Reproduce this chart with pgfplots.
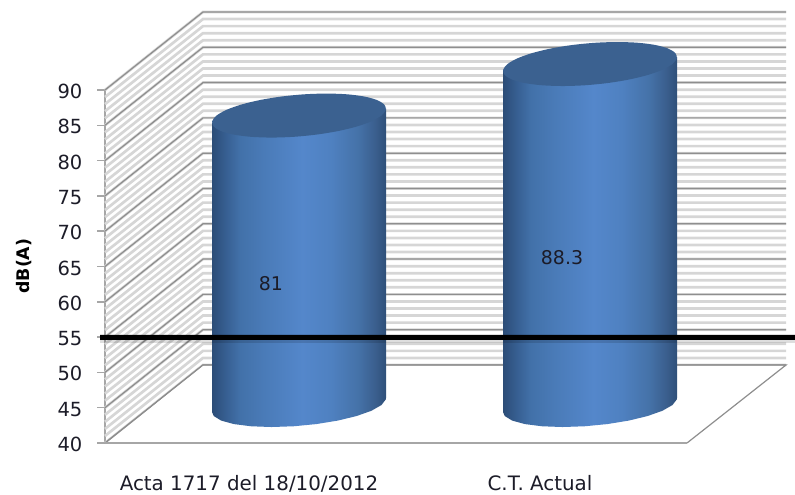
\documentclass[border=0pt]{standalone}
\usepackage{pgfplots}
\usepackage{pgfplotstable}
\usepackage{fontspec}
\setmainfont{DejaVu Sans}
\pgfplotsset{compat=1.18}
\newcommand{\px}{0.75pt}
\definecolor{topcol}{HTML}{3B6190}
\definecolor{txtcol}{HTML}{1C1C28}
\definecolor{majgrid}{HTML}{8E8E8E}
\definecolor{mingrid}{HTML}{D6D6D6}
\definecolor{axcol}{HTML}{A6A6A6}
\definecolor{cA}{HTML}{2C4D77}
\definecolor{cB}{HTML}{375F92}
\definecolor{cC}{HTML}{4271A9}
\definecolor{cD}{HTML}{4A7BB8}
\definecolor{cE}{HTML}{5487CB}
\definecolor{cF}{HTML}{4F81C1}
\definecolor{cG}{HTML}{4572A8}
\definecolor{cH}{HTML}{3A5E8D}
\definecolor{cI}{HTML}{2F5079}
\pgfdeclarehorizontalshading{cyl}{100bp}{color(0bp)=(cA); color(25bp)=(cA); color(29bp)=(cB); color(33bp)=(cC); color(40bp)=(cD); color(51bp)=(cE); color(59bp)=(cF); color(67bp)=(cG); color(72bp)=(cH); color(75bp)=(cI); color(100bp)=(cI)}
% grid line path: front plane -> back wall corner -> back wall right end
\pgfplotstableread{
x off
105 0
203 11.05
786 11.05
}\gridtable
% outline of the cylinder wall: dx(px) dy(px) level (0 base, 1 top)
\pgfplotstableread{
dx dy lev
-87 -7 0
-85.25 -11 0
-77.85 -15.56 0
-65.15 -19.05 0
-48.01 -21.25 0
-27.6 -22 0
-5.31 -21.25 0
17.35 -19.05 0
38.82 -15.56 0
57.65 -11 0
72.55 -5.69 0
82.5 0 0
86.83 5.69 0
87 7 0
87 7 1
-87 -7 1
}\bodytable
% top ellipse: dx(px) dy(px)
\pgfplotstableread{
dx dy
82.5 0
86.83 5.69
85.25 11
77.85 15.56
65.15 19.05
48.01 21.25
27.6 22
5.31 21.25
-17.35 19.05
-38.82 15.56
-57.65 11
-72.55 5.69
-82.5 0
-86.83 -5.69
-85.25 -11
-77.85 -15.56
-65.15 -19.05
-48.01 -21.25
-27.6 -22
-5.31 -21.25
17.35 -19.05
38.82 -15.56
57.65 -11
72.55 -5.69
82.5 0
}\toptable
\begin{document}
\begin{tikzpicture}
\useasboundingbox (0,0) rectangle (795*\px,494*\px);
\begin{axis}[
  at={(105*\px,51*\px)}, anchor=south west,
  scale only axis, width=582*\px, height=353*\px,
  xmin=105, xmax=687, ymin=40, ymax=90,
  clip=false,
  axis lines=left,
  axis line style={-, axcol, line width=1.5*\px},
  ytick={40,45,...,90},
  xtick={249,540}, xticklabels={Acta 1717 del 18/10/2012, C.T. Actual},
  tick align=outside,
  major tick length=8*\px,
  x tick style={draw=none},
  y tick style={axcol, line width=1.5*\px},
  tick label style={font=\fontsize{14.6pt}{16pt}\selectfont, text=txtcol},
  yticklabel style={xshift=-10*\px, yshift=-1.5*\px},
  xticklabel style={yshift=-20*\px, font=\fontsize{14.9pt}{16pt}\selectfont},
  /pgf/number format/assume math mode=true,
  ylabel={\textbf{dB(A)}},
  ylabel style={font=\fontsize{13pt}{15pt}\selectfont, text=black, at={(axis description cs:-0.139,0.501)}, anchor=center},
]
% light gridlines (every dB)
\pgfplotsinvokeforeach{40,...,90}{
  \addplot[mingrid, line width=2.7*\px, forget plot] table[x=x, y expr=\thisrow{off}+#1] {\gridtable};
}
% major gridlines (every 5 dB)
\pgfplotsinvokeforeach{40,45,...,90}{
  \addplot[majgrid, line width=1.2*\px, forget plot] table[x=x, y expr=\thisrow{off}+#1] {\gridtable};
}
% white floor
\addplot[fill=white, draw=none, forget plot] coordinates {(105,39.8) (203,50.95) (786,50.95) (687,39.8)} --cycle;
\addplot[majgrid, line width=1.2*\px, forget plot] coordinates {(105,40) (203,51.05) (786,51.05) (687,40)};
\addplot[axcol, line width=1.5*\px, forget plot] coordinates {(105,40) (687,40)};
% cylinders: 81 and 88.3
\addplot[draw=none, shading=cyl, forget plot] table[x expr=\thisrow{dx}+299, y expr={45.38+\thisrow{lev}*(81-40)+\thisrow{dy}/7.06}] {\bodytable} --cycle;
\addplot[draw=none, fill=topcol, smooth, forget plot] table[x expr=\thisrow{dx}+299, y expr={45.38+(81-40)+\thisrow{dy}/7.06}] {\toptable} --cycle;
\addplot[draw=none, shading=cyl, forget plot] table[x expr=\thisrow{dx}+590, y expr={45.38+\thisrow{lev}*(88.3-40)+\thisrow{dy}/7.06}] {\bodytable} --cycle;
\addplot[draw=none, fill=topcol, smooth, forget plot] table[x expr=\thisrow{dx}+590, y expr={45.38+(88.3-40)+\thisrow{dy}/7.06}] {\toptable} --cycle;
% 55 dB limit
\addplot[black, opacity=0.13, line width=9*\px, forget plot] coordinates {(100,54.85) (795,54.85)};
\addplot[black, line width=5*\px, forget plot] coordinates {(100,55) (795,55)};
% value labels
\addplot[draw=none, mark=none, forget plot, point meta=explicit symbolic,
  nodes near coords, nodes near coords style={anchor=center, font=\fontsize{14.2pt}{16pt}\selectfont, text=txtcol}]
  coordinates {(271,62.52)[81] (562,66.2)[88.3]};
\end{axis}
\end{tikzpicture}
\end{document}
